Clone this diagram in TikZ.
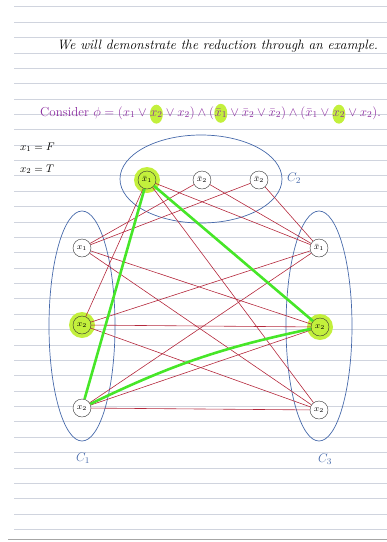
\documentclass[tikz,border=0pt]{standalone}
\usepackage{fix-cm}
\usetikzlibrary{backgrounds}
\definecolor{rulecol}{RGB}{208,212,222}
\definecolor{penblue}{RGB}{70,105,170}
\definecolor{penred}{RGB}{180,40,60}
\definecolor{penpurple}{RGB}{140,45,160}
\definecolor{hlgreen}{RGB}{195,240,60}
\definecolor{pathgreen}{RGB}{70,230,40}
\begin{document}
\begin{tikzpicture}[x=1pt,y=-1pt,
  lit/.style={circle,draw=black!80,fill=white,minimum size=18pt,inner sep=0pt,font=\fontsize{8.5}{9}\selectfont},
  chosen/.style={lit,fill=hlgreen},
  clause/.style={draw=penblue,line width=0.7pt},
  edge/.style={penred,line width=0.6pt},
  pick/.style={pathgreen,line width=2.6pt},
  formula/.style={anchor=base west,inner sep=0pt,text=penpurple,font=\fontsize{13}{15}\selectfont},
  cname/.style={text=penblue,font=\fontsize{12.5}{15}\selectfont}]
\useasboundingbox (0,0) rectangle (387,542);

\node[anchor=base west,inner sep=0pt,font=\itshape\fontsize{13.6}{16}\selectfont] (title) at (57,49) {We will demonstrate the reduction through an example.};

\node[formula] (cons) at (40,116) {Consider $\phi=(x_1\vee{}$};
\node[formula] (l1) at (cons.base east) {$x_2$};
\node[formula] (r1) at (l1.base east) {${}\vee x_2)\wedge($};
\node[formula] (l2) at (r1.base east) {$\bar{x}_1$};
\node[formula] (r2) at (l2.base east) {${}\vee\bar{x}_2\vee\bar{x}_2)\wedge(\bar{x}_1\vee{}$};
\node[formula] (l3) at (r2.base east) {$x_2$};
\node[formula] (r3) at (l3.base east) {${}\vee x_2)$.};

\node[anchor=base west,inner sep=0pt,font=\fontsize{11}{13}\selectfont] (val1) at (20,150) {$x_1=F$};
\node[anchor=base west,inner sep=0pt,font=\fontsize{11}{13}\selectfont] (val2) at (20,172) {$x_2=T$};

\draw[clause] (82,326) ellipse (33 and 115);
\draw[clause] (201,179) ellipse (81 and 44);
\draw[clause] (319,326) ellipse (33 and 115);
\node[cname] (lc1) at (83,458) {$C_1$};
\node[cname] (lc2) at (294,178) {$C_2$};
\node[cname] (lc3) at (325,459) {$C_3$};

\node[lit] (a1) at (82,248) {$x_1$};
\node[chosen] (a2) at (82,325) {$x_2$};
\node[lit] (a3) at (82,408) {$x_2$};
\node[chosen] (b1) at (147,180) {$\bar{x}_1$};
\node[lit] (b2) at (202,180) {$\bar{x}_2$};
\node[lit] (b3) at (259,180) {$\bar{x}_2$};
\node[lit] (c1) at (319,248) {$\bar{x}_1$};
\node[chosen] (c2) at (320,327) {$x_2$};
\node[lit] (c3) at (319,410) {$x_2$};

\foreach \u/\v in {a1/b2,a1/b3,a2/b1,a3/b1,a1/c2,a1/c3,a2/c1,a3/c1,a2/c2,a2/c3,a3/c2,a3/c3,b1/c1,b1/c2,b1/c3,b2/c1,b3/c1}
  \draw[edge] (\u) -- (\v);

\draw[pick] (b1) -- (a3);
\draw[pick] (b1) -- (c2);
\draw[pick] (a3) to[bend left=7] (c2);

\begin{scope}[on background layer]
\foreach \k in {0,...,34}
  \draw[rulecol,line width=0.6pt] (14,6.7+15.37*\k) -- (387,6.7+15.37*\k);
\draw[gray!70,line width=0.8pt] (8,539) -- (387,539);
\foreach \n in {l1,l2,l3}
  \fill[hlgreen] (\n) ellipse (6.5 and 9.5);
\foreach \n in {a2,b1,c2}
  \fill[hlgreen] (\n) circle (13);
\end{scope}
\end{tikzpicture}
\end{document}
